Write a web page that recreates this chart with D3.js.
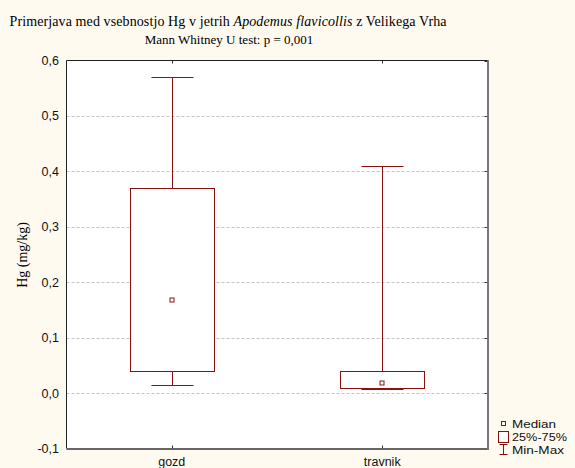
<!DOCTYPE html>
<html>
<head>
<meta charset="utf-8">
<script src="https://cdn.jsdelivr.net/npm/d3@7"></script>
<style>
  body { margin: 0; background: #fffaf0; }
  svg { display: block; }
  .serif { font-family: "Liberation Serif", "Times New Roman", serif; }
  .sans { font-family: "Liberation Sans", Arial, sans-serif; fill: #111; }
</style>
</head>
<body>
<svg id="chart" width="575" height="468"></svg>
<script>
// values
let groups = ['gozd', 'travnik']
let minVals = [0.015, 0.007]
let q1Vals = [0.04, 0.009]
let medianVals = [0.168, 0.018]
let q3Vals = [0.37, 0.039]
let maxVals = [0.57, 0.41]
let yTicks = [-0.1, 0, 0.1, 0.2, 0.3, 0.4, 0.5, 0.6]
let legendLabels = ['Median', '25%-75%', 'Min-Max']

let red = '#8b1010'
let svg = d3.select('#chart')

let pLeft = 66.5, pRight = 487.5, pTop = 60.5, pBottom = 448.5

let x = d3.scaleBand().domain(groups).range([pLeft, pRight])
let y = d3.scaleLinear().domain([-0.1, 0.6]).range([pBottom, pTop])

let fmt = d => d3.format('.1f')(d).replace('.', ',').replace('−', '-')

// background of plot
svg.append('rect')
   .attr('x', pLeft).attr('y', pTop)
   .attr('width', pRight - pLeft).attr('height', pBottom - pTop)
   .attr('fill', '#ffffff')

// grid lines
svg.selectAll('.grid')
   .data(yTicks.filter(d => d > -0.1 && d < 0.6))
   .enter()
   .append('line')
   .attr('x1', pLeft).attr('x2', pRight)
   .attr('y1', d => Math.round(y(d)) + 0.5)
   .attr('y2', d => Math.round(y(d)) + 0.5)
   .attr('stroke', '#c4c4c4')
   .attr('stroke-dasharray', '3,2')

// titles
svg.append('text')
   .attr('class', 'serif')
   .attr('x', 228).attr('y', 26)
   .attr('text-anchor', 'middle')
   .attr('font-size', 14)
   .attr('textLength', 437)
   .attr('lengthAdjust', 'spacing')
   .html('Primerjava med vsebnostjo Hg v jetrih <tspan font-style="italic">Apodemus flavicollis</tspan> z Velikega Vrha')

svg.append('text')
   .attr('class', 'serif')
   .attr('x', 229).attr('y', 44)
   .attr('text-anchor', 'middle')
   .attr('font-size', 13)
   .text('Mann Whitney U test: p = 0,001')

// y axis label
svg.append('text')
   .attr('class', 'serif')
   .attr('transform', 'translate(27,255) rotate(-90)')
   .attr('text-anchor', 'middle')
   .attr('font-size', 14)
   .text('Hg (mg/kg)')

// y tick labels
svg.selectAll('.ylab')
   .data(yTicks)
   .enter()
   .append('text')
   .attr('class', 'sans')
   .attr('x', 59)
   .attr('y', d => y(d) + 4.5)
   .attr('text-anchor', 'end')
   .attr('font-size', 12.5)
   .text(fmt)

// x tick labels
svg.selectAll('.xlab')
   .data(groups)
   .enter()
   .append('text')
   .attr('class', 'sans')
   .attr('x', d => x(d) + x.bandwidth() / 2)
   .attr('y', 466)
   .attr('text-anchor', 'middle')
   .attr('font-size', 12.5)
   .text(d => d)

// inner ticks on top and bottom at categories
groups.forEach(g => {
  let cx = Math.round(x(g) + x.bandwidth() / 2) + 0.5
  svg.append('line').attr('x1', cx).attr('x2', cx).attr('y1', pTop).attr('y2', pTop + 3).attr('stroke', '#333')
  svg.append('line').attr('x1', cx).attr('x2', cx).attr('y1', pBottom).attr('y2', pBottom - 3).attr('stroke', '#333')
})
// inner ticks on right side
yTicks.forEach(t => {
  let ty = Math.round(y(t)) + 0.5
  svg.append('line').attr('x1', pRight - 3).attr('x2', pRight).attr('y1', ty).attr('y2', ty).attr('stroke', '#333')
})

// boxes
let boxW = x.bandwidth() * 0.4
let capW = boxW / 2
groups.forEach((g, i) => {
  let cx = Math.round(x(g) + x.bandwidth() / 2) + 0.5
  let px = v => Math.round(y(v)) + 0.5
  let gr = svg.append('g').attr('stroke', red).attr('fill', 'none')
  // whiskers
  gr.append('line').attr('x1', cx).attr('x2', cx).attr('y1', px(maxVals[i])).attr('y2', px(q3Vals[i]))
  gr.append('line').attr('x1', cx).attr('x2', cx).attr('y1', px(q1Vals[i])).attr('y2', px(minVals[i]))
  gr.append('line').attr('x1', cx - capW / 2).attr('x2', cx + capW / 2)
    .attr('y1', px(maxVals[i])).attr('y2', px(maxVals[i]))
  gr.append('line').attr('x1', cx - capW / 2).attr('x2', cx + capW / 2)
    .attr('y1', px(minVals[i])).attr('y2', px(minVals[i]))
  // box
  gr.append('rect')
    .attr('x', Math.round(cx - boxW / 2) + 0.5)
    .attr('y', px(q3Vals[i]))
    .attr('width', Math.round(boxW))
    .attr('height', px(q1Vals[i]) - px(q3Vals[i]))
    .attr('fill', '#fff')
  // median marker
  gr.append('rect')
    .attr('x', cx - 2.5).attr('y', px(medianVals[i]) - 2.5)
    .attr('width', 4).attr('height', 4)
    .attr('fill', '#fff')
})

// frame
svg.append('line').attr('x1', pLeft).attr('x2', pRight + 1).attr('y1', pTop).attr('y2', pTop).attr('stroke', '#222')
svg.append('line').attr('x1', pLeft).attr('x2', pLeft).attr('y1', pTop).attr('y2', pBottom).attr('stroke', '#222')
svg.append('line').attr('x1', pLeft).attr('x2', pRight + 1.5).attr('y1', pBottom + 0.5).attr('y2', pBottom + 0.5)
   .attr('stroke', '#666').attr('stroke-width', 2)
svg.append('line').attr('x1', pRight + 0.5).attr('x2', pRight + 0.5).attr('y1', pTop).attr('y2', pBottom + 1.5)
   .attr('stroke', '#777').attr('stroke-width', 2)

// legend
let lg = svg.append('g')
let lx = 503.5
let lyy = [423.5, 436.5, 449.5]
lg.append('rect').attr('x', lx - 2).attr('y', lyy[0] - 2).attr('width', 4).attr('height', 4)
  .attr('fill', '#fff').attr('stroke', red)
lg.append('rect').attr('x', lx - 5).attr('y', lyy[1] - 5).attr('width', 10).attr('height', 11)
  .attr('fill', '#fff').attr('stroke', red)
lg.append('line').attr('x1', lx).attr('x2', lx).attr('y1', lyy[2] - 5).attr('y2', lyy[2] + 5).attr('stroke', red)
lg.append('line').attr('x1', lx - 4).attr('x2', lx + 4).attr('y1', lyy[2] - 5).attr('y2', lyy[2] - 5).attr('stroke', red)
lg.append('line').attr('x1', lx - 4).attr('x2', lx + 4).attr('y1', lyy[2] + 5).attr('y2', lyy[2] + 5).attr('stroke', red)
lg.selectAll('text')
  .data(legendLabels)
  .enter()
  .append('text')
  .attr('class', 'sans')
  .attr('x', 512)
  .attr('y', (d, i) => lyy[i] + 4.5)
  .attr('font-size', 11.5)
  .attr('textLength', (d, i) => [44, 55, 52][i])
  .attr('lengthAdjust', 'spacingAndGlyphs')
  .text(d => d)
</script>
</body>
</html>
